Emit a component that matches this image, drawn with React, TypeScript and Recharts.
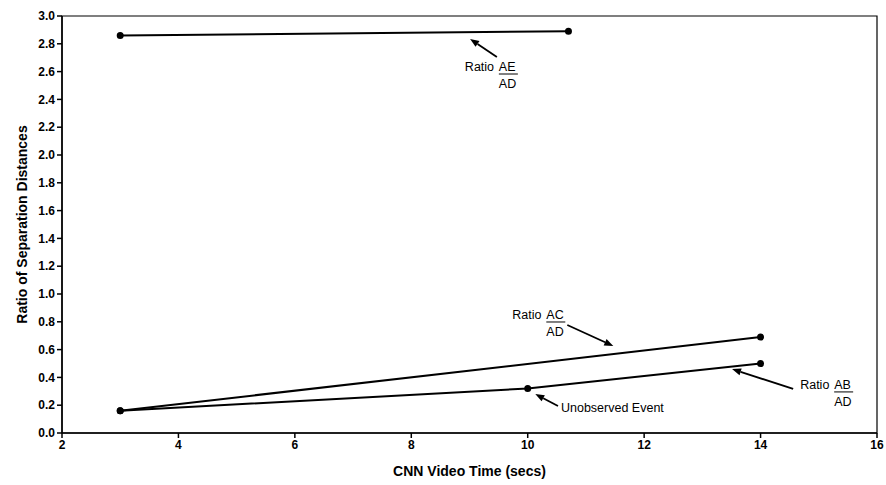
import React from 'react';
import { LineChart, Line, XAxis, YAxis, ReferenceLine, ReferenceArea } from 'recharts';

// Ratio AE / AD
const aeTimes = [3, 10.7];
const aeRatios = [2.86, 2.89];
// Ratio AC / AD
const acTimes = [3, 14];
const acRatios = [0.16, 0.69];
// Ratio AB / AD (middle point is the unobserved event)
const abTimes = [3, 10, 14];
const abRatios = [0.16, 0.32, 0.5];

const xTicks = [2, 4, 6, 8, 10, 12, 14, 16];
const yTicks = [0, 0.2, 0.4, 0.6, 0.8, 1.0, 1.2, 1.4, 1.6, 1.8, 2.0, 2.2, 2.4, 2.6, 2.8, 3.0];

const toPoints = (xs: number[], ys: number[]) => xs.map((t, i) => ({ t, r: ys[i] }));

const aeData = toPoints(aeTimes, aeRatios);
const acData = toPoints(acTimes, acRatios);
const abData = toPoints(abTimes, abRatios);

// annotation arrows: tail -> head in data units, label offset from tail in px
const annotations = [
  { tail: { x: 9.47, y: 2.705 }, head: { x: 9.01, y: 2.835 }, num: 'AE', dx: -32, dy: 14 },
  { tail: { x: 10.68, y: 0.777 }, head: { x: 11.47, y: 0.626 }, num: 'AC', dx: -55, dy: -6 },
  { tail: { x: 14.56, y: 0.317 }, head: { x: 13.51, y: 0.46 }, num: 'AB', dx: 7, dy: 0 },
  { tail: { x: 10.52, y: 0.194 }, head: { x: 10.13, y: 0.28 }, text: 'Unobserved Event', dx: 3, dy: 6 },
];

const font = '"Liberation Sans", Arial, sans-serif';

const makeArrow = (a: any) => (p: any) => {
  const { x1, y1, x2, y2 } = p;
  if ([x1, y1, x2, y2].some((v) => typeof v !== 'number' || isNaN(v))) return <g />;
  const ang = Math.atan2(y2 - y1, x2 - x1);
  const len = 9;
  const w = 3.5;
  const bx = x2 - len * Math.cos(ang);
  const by = y2 - len * Math.sin(ang);
  const px = -Math.sin(ang) * w;
  const py = Math.cos(ang) * w;
  const tx = x1 + a.dx;
  const ty = y1 + a.dy;
  return (
    <g>
      <line x1={x1} y1={y1} x2={bx} y2={by} stroke="#000" strokeWidth={1.8} />
      <polygon points={`${x2},${y2} ${bx + px},${by + py} ${bx - px},${by - py}`} fill="#000" />
      {a.text ? (
        <text x={tx} y={ty} fontSize={12.5} fontFamily={font} fill="#000">
          {a.text}
        </text>
      ) : (
        <g fontSize={12.5} fontFamily={font} fill="#000">
          <text x={tx} y={ty}>Ratio</text>
          <text x={tx + 34} y={ty}>{a.num}</text>
          <line x1={tx + 34} y1={ty + 3} x2={tx + 53} y2={ty + 3} stroke="#000" strokeWidth={1} />
          <text x={tx + 34} y={ty + 17}>AD</text>
        </g>
      )}
    </g>
  );
};

const App: React.FC = () => {
  return (
    <div style={{ position: 'absolute', left: 0, top: 0, background: '#fff' }}>
      <LineChart width={886} height={485} margin={{ top: 16, right: 9, bottom: 7, left: 20 }}>
        <XAxis
          type="number"
          dataKey="t"
          domain={[2, 16]}
          ticks={xTicks}
          allowDataOverflow
          height={45}
          stroke="#000"
          strokeWidth={1.5}
          tickSize={5}
          tick={{ fill: '#000', fontSize: 12, fontWeight: 'bold', fontFamily: font }}
          label={{ value: 'CNN Video Time (secs)', position: 'insideBottom', offset: 2, fill: '#000', fontSize: 14, fontWeight: 'bold', fontFamily: font }}
        />
        <YAxis
          type="number"
          domain={[0, 3]}
          ticks={yTicks}
          width={42}
          stroke="#000"
          strokeWidth={1.5}
          tickSize={5}
          tickFormatter={(v: number) => v.toFixed(1)}
          tick={{ fill: '#000', fontSize: 12, fontWeight: 'bold', fontFamily: font }}
          label={{ value: 'Ratio of Separation Distances', angle: -90, position: 'insideLeft', offset: 2, style: { textAnchor: 'middle' }, fill: '#000', fontSize: 14, fontWeight: 'bold', fontFamily: font }}
        />
        <ReferenceArea x1={2} x2={16} y1={0} y2={3} fill="none" stroke="#000" strokeWidth={1.2} ifOverflow="visible" />
        <Line data={aeData} dataKey="r" stroke="#000" strokeWidth={2} dot={{ r: 2.5, fill: '#000', stroke: '#000' }} isAnimationActive={false} />
        <Line data={acData} dataKey="r" stroke="#000" strokeWidth={2} dot={{ r: 2.5, fill: '#000', stroke: '#000' }} isAnimationActive={false} />
        <Line data={abData} dataKey="r" stroke="#000" strokeWidth={2} dot={{ r: 2.5, fill: '#000', stroke: '#000' }} isAnimationActive={false} />
        {annotations.map((a, i) => (
          <ReferenceLine key={i} segment={[a.tail, a.head]} ifOverflow="visible" shape={makeArrow(a)} />
        ))}
      </LineChart>
    </div>
  );
};

export default App;
